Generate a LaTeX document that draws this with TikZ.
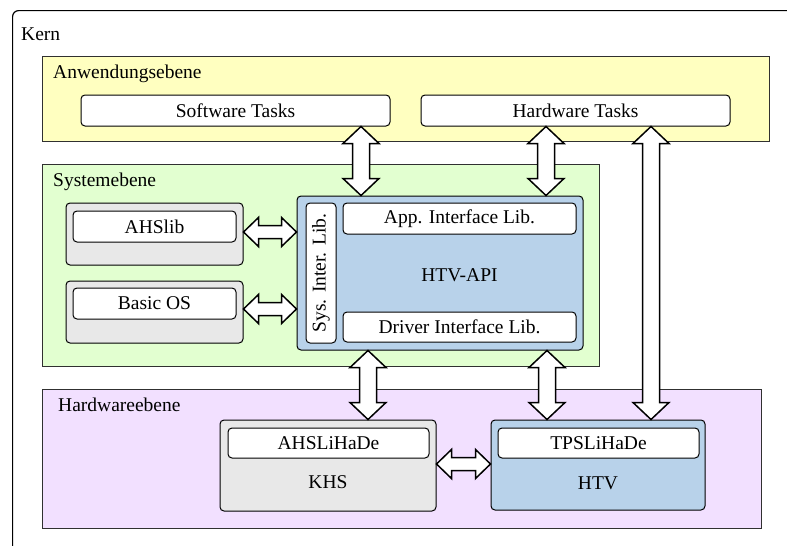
\documentclass[tikz,border=0pt]{standalone}
\usepackage{fontspec}
\setmainfont{Liberation Serif}
\usetikzlibrary{calc}

\definecolor{appfill}{HTML}{FFFFC0}
\definecolor{sysfill}{HTML}{E2FFD0}
\definecolor{hwfill}{HTML}{F2E0FF}
\definecolor{apifill}{HTML}{B8D2EA}
\definecolor{modfill}{HTML}{E8E8E8}
\definecolor{edge}{HTML}{303030}

\tikzset{
  layer/.style={draw=edge, line width=1pt, inner sep=0pt},
  modbox/.style={draw=black, fill=modfill, line width=1pt, rounded corners=4pt, inner sep=0pt},
  apibox/.style={draw=black, fill=apifill, line width=1pt, rounded corners=4pt, inner sep=0pt},
  libbox/.style={draw=black, fill=white, line width=1pt, rounded corners=4pt, inner sep=0pt},
  caption/.style={anchor=base west, inner sep=0pt},
  plain/.style={inner sep=0pt},
  % vertical block arrow with heads at both ends
  vblk/.style={draw=black, fill=white, line width=1.5pt, line join=miter,
    to path={let \p1=(\tikztostart), \p2=(\tikztotarget), \n1={sign(\y2-\y1)} in
      (\x1,\y1) -- (\x1+18pt,{\y1+\n1*17pt}) -- (\x1+8.5pt,{\y1+\n1*17pt})
      -- (\x1+8.5pt,{\y2-\n1*17pt}) -- (\x1+18pt,{\y2-\n1*17pt}) -- (\x2,\y2)
      -- (\x1-18pt,{\y2-\n1*17pt}) -- (\x1-8.5pt,{\y2-\n1*17pt})
      -- (\x1-8.5pt,{\y1+\n1*17pt}) -- (\x1-18pt,{\y1+\n1*17pt}) -- cycle}},
  % horizontal block arrow with heads at both ends
  hblk/.style={draw=black, fill=white, line width=1.5pt, line join=miter,
    to path={let \p1=(\tikztostart), \p2=(\tikztotarget), \n1={sign(\x2-\x1)} in
      (\x1,\y1) -- ({\x1+\n1*15pt},\y1+14.5pt) -- ({\x1+\n1*15pt},\y1+6.5pt)
      -- ({\x2-\n1*15pt},\y1+6.5pt) -- ({\x2-\n1*15pt},\y1+14.5pt) -- (\x2,\y2)
      -- ({\x2-\n1*15pt},\y1-14.5pt) -- ({\x2-\n1*15pt},\y1-6.5pt)
      -- ({\x1+\n1*15pt},\y1-6.5pt) -- ({\x1+\n1*15pt},\y1-14.5pt) -- cycle}}
}

\begin{document}
\begin{tikzpicture}[x=1pt, y=-1pt, font=\fontsize{19.5}{23}\selectfont]
  \clip (0,0) rectangle (787,546);

  % outer frame
  \node[draw=black, line width=1.2pt, rounded corners=6pt, inner sep=0pt,
        minimum width=800pt, minimum height=560pt, anchor=north west] (kern) at (12,10) {};
  \node[caption] (kernlbl) at (21,40) {Kern};

  % layers
  \node[layer, fill=appfill, minimum width=727pt, minimum height=85pt] (app) at (405.5,98.5) {};
  \node[caption] (applbl) at (53,78) {Anwendungsebene};
  \node[layer, fill=sysfill, minimum width=557pt, minimum height=202pt] (sys) at (320.5,265) {};
  \node[caption] (syslbl) at (53,186) {Systemebene};
  \node[layer, fill=hwfill, minimum width=719pt, minimum height=139pt] (hw) at (401.5,458.5) {};
  \node[caption] (hwlbl) at (58,411) {Hardwareebene};

  % application level
  \node[libbox, minimum width=309pt, minimum height=31pt] (swt) at (235.5,110.5) {Software Tasks};
  \node[libbox, minimum width=309pt, minimum height=31pt] (hwt) at (575.5,110.5) {Hardware Tasks};

  % system level
  \node[modbox, minimum width=177pt, minimum height=62pt] (ahs) at (154.5,234) {};
  \node[libbox, minimum width=163pt, minimum height=31pt] (ahslib) at (154.5,226.5) {AHSlib};
  \node[modbox, minimum width=177pt, minimum height=62pt] (bos) at (154.5,312) {};
  \node[libbox, minimum width=163pt, minimum height=31pt] (boslib) at (154.5,303.5) {Basic OS};

  \node[apibox, minimum width=286pt, minimum height=154pt] (api) at (440,273) {};
  \node[plain] (apilbl) at (459.5,275) {HTV-API};
  \node[libbox, rotate=90, minimum width=140pt, minimum height=30pt] (sil) at (321,273) {Sys. Inter. Lib.};
  \node[libbox, minimum width=233pt, minimum height=31pt] (ail) at (459.5,218.5) {App. Interface Lib.};
  \node[libbox, minimum width=233pt, minimum height=30pt] (dil) at (459.5,327) {Driver Interface Lib.};

  % hardware level
  \node[modbox, minimum width=216pt, minimum height=91pt] (khs) at (328,465.5) {};
  \node[libbox, minimum width=201pt, minimum height=30pt] (ahsl) at (328.5,443) {AHSLiHaDe};
  \node[plain] (khslbl) at (328,482) {KHS};
  \node[apibox, minimum width=214pt, minimum height=90pt] (htv) at (598,465) {};
  \node[libbox, minimum width=201pt, minimum height=30pt] (tpsl) at (598.5,443) {TPSLiHaDe};
  \node[plain] (htvlbl) at (598,483) {HTV};

  % arrow positions
  \coordinate (ax1) at (361,0);
  \coordinate (ax2) at (546,0);
  \coordinate (ax3) at (651,0);
  \coordinate (ax4) at (368,0);
  \coordinate (ax5) at (547,0);
  \coordinate (ay1) at (0,232);
  \coordinate (ay2) at (0,309);
  \coordinate (ay3) at (0,464);

  % connections
  \draw[vblk] (swt.south -| ax1) to (api.north -| ax1);
  \draw[vblk] (hwt.south -| ax2) to (api.north -| ax2);
  \draw[vblk] (hwt.south -| ax3) to (htv.north -| ax3);
  \draw[vblk] (api.south -| ax4) to (khs.north -| ax4);
  \draw[vblk] (api.south -| ax5) to (htv.north -| ax5);
  \draw[hblk] (ahs.east |- ay1) to (api.west |- ay1);
  \draw[hblk] (bos.east |- ay2) to (api.west |- ay2);
  \draw[hblk] (khs.east |- ay3) to (htv.west |- ay3);
\end{tikzpicture}
\end{document}
